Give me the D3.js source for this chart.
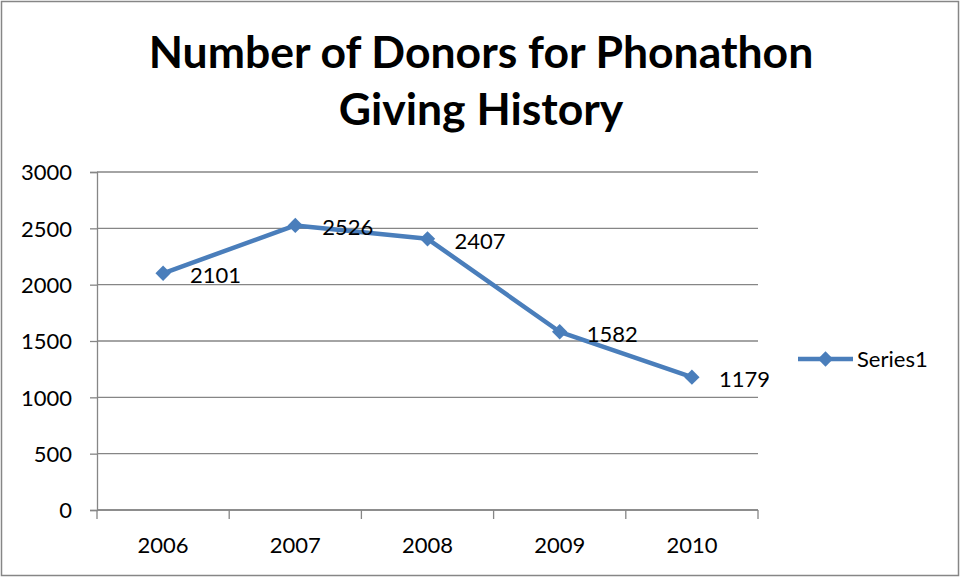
<!DOCTYPE html>
<html>
<head>
<meta charset="utf-8">
<script src="https://cdn.jsdelivr.net/npm/d3@7"></script>
<style>
  body { margin: 0; background: #fff; }
  text { font-family: Lato, "Open Sans", sans-serif; fill: #000; }
</style>
</head>
<body>
<div id="holder"></div>
<script>
var years = ['2006', '2007', '2008', '2009', '2010'];
var donors = [2101, 2526, 2407, 1582, 1179];
var yTicks = [0, 500, 1000, 1500, 2000, 2500, 3000];
var seriesName = 'Series1';
var titleLines = ['Number of Donors for Phonathon', 'Giving History'];

var fullWidth = 961;
var fullHeight = 577;
var margin = {top: 172, right: 203, bottom: 67, left: 97};
var width = fullWidth - margin.left - margin.right;
var height = fullHeight - margin.top - margin.bottom;
var blue = '#4a7ebb';
var grey = '#868686';

var root = d3.select('#holder').append('svg')
  .attr('width', fullWidth)
  .attr('height', fullHeight);

// chart border
root.append('rect')
  .attr('x', 1.5).attr('y', 1.5)
  .attr('width', fullWidth - 4).attr('height', fullHeight - 3)
  .attr('fill', 'none')
  .attr('stroke', grey)
  .attr('stroke-width', 1.5);

root.selectAll('text.title')
    .data(titleLines)
  .enter().append('text')
    .classed('title', true)
    .attr('x', 481)
    .attr('y', function(d, i) { return 68 + i * 57; })
    .attr('text-anchor', 'middle')
    .style('font-size', '44.5px')
    .style('font-weight', 'bold')
    .text(function(d) { return d; });

var svg = root.append('g')
  .attr('transform', 'translate(' + margin.left + ',' + margin.top + ')');

var yScale = d3.scaleLinear()
  .domain([0, 3000])
  .range([height, 0]);

var xScale = d3.scaleBand()
  .domain(years)
  .range([0, width]);

// gridlines
svg.append('g')
  .selectAll('line')
    .data(yTicks)
  .enter().append('line')
    .attr('x1', 0).attr('x2', width)
    .attr('y1', function(d) { return yScale(d); })
    .attr('y2', function(d) { return yScale(d); })
    .attr('stroke', grey)
    .attr('stroke-width', 1.3);

var yaxis = d3.axisLeft(yScale)
  .tickValues(yTicks)
  .tickFormat(d3.format('d'))
  .tickSize(7)
  .tickPadding(18);

var yg = svg.append('g').call(yaxis);
yg.select('.domain').attr('stroke', grey).attr('stroke-width', 1.3);
yg.selectAll('.tick line').attr('stroke', grey).attr('stroke-width', 1.3);
yg.selectAll('.tick text').style('font-size', '22px').attr('dy', '0.36em');

// x axis, ticks on category boundaries
var xg = svg.append('g')
  .attr('transform', 'translate(0,' + height + ')');
xg.append('line')
  .attr('x1', 0).attr('x2', width)
  .attr('stroke', grey).attr('stroke-width', 1.3);
xg.selectAll('line.tk')
    .data(years.concat(['end']))
  .enter().append('line')
    .classed('tk', true)
    .attr('x1', function(d, i) { return i * xScale.step(); })
    .attr('x2', function(d, i) { return i * xScale.step(); })
    .attr('y1', 0).attr('y2', 9)
    .attr('stroke', grey).attr('stroke-width', 1.3);
xg.selectAll('text')
    .data(years)
  .enter().append('text')
    .attr('x', function(d) { return xScale(d) + xScale.bandwidth() / 2; })
    .attr('y', 43)
    .attr('text-anchor', 'middle')
    .style('font-size', '22px')
    .text(function(d) { return d; });

var points = years.map(function(y, i) { return {year: y, value: donors[i]}; });

var line = d3.line()
  .x(function(d) { return xScale(d.year) + xScale.bandwidth() / 2; })
  .y(function(d) { return yScale(d.value); });

svg.append('path')
  .datum(points)
  .attr('d', line)
  .attr('fill', 'none')
  .attr('stroke', blue)
  .attr('stroke-width', 4.5)
  .attr('stroke-linejoin', 'round');

var diamond = d3.symbol().type(d3.symbolDiamond2).size(150);

svg.selectAll('path.marker')
    .data(points)
  .enter().append('path')
    .classed('marker', true)
    .attr('d', diamond)
    .attr('transform', function(d) {
      return 'translate(' + (xScale(d.year) + xScale.bandwidth() / 2) + ',' + yScale(d.value) + ')';
    })
    .attr('fill', blue);

svg.selectAll('text.label')
    .data(points)
  .enter().append('text')
    .classed('label', true)
    .attr('x', function(d) { return xScale(d.year) + xScale.bandwidth() / 2 + 27; })
    .attr('y', function(d) { return yScale(d.value) + 10; })
    .style('font-size', '22px')
    .text(function(d) { return d.value; });

// legend
var legend = root.append('g')
  .attr('transform', 'translate(798,359)');
legend.append('line')
  .attr('x1', 0).attr('x2', 55)
  .attr('stroke', blue).attr('stroke-width', 4.5);
legend.append('path')
  .attr('d', diamond)
  .attr('transform', 'translate(27.5,0)')
  .attr('fill', blue);
legend.append('text')
  .attr('x', 59)
  .attr('y', 8)
  .style('font-size', '22px')
  .text(seriesName);
</script>
</body>
</html>
